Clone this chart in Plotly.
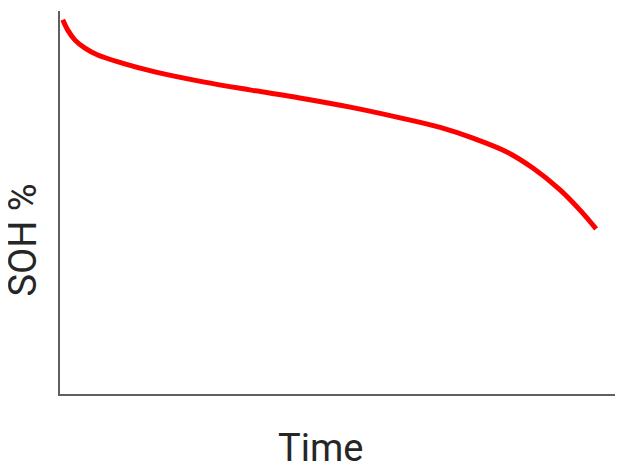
import plotly.graph_objects as go

# Data (time and SOH on 0-100 scales)
time = [0.5, 1.4, 2.7, 4.5, 6.8, 11.2, 17.1, 25.8, 34.2, 43.2, 52.3, 61.3, 68.5, 74.4, 80.5, 85.2, 90.1, 93.7, 96.6]
soh = [97.7, 95.0, 92.4, 90.3, 88.5, 86.4, 84.1, 81.5, 79.4, 77.3, 74.9, 72.1, 69.6, 66.8, 63.2, 59.0, 53.3, 48.0, 43.1]

x_title = "Time"
y_title = "SOH %"

fig = go.Figure()
fig.add_trace(go.Scatter(
    x=time, y=soh, mode="lines",
    line=dict(color="#ff0000", width=5, shape="spline", smoothing=1.0),
    showlegend=False, hoverinfo="skip",
))

axis_common = dict(
    showgrid=False, zeroline=False, showticklabels=False, ticks="",
    showline=True, linecolor="#5f5f5f", linewidth=2, automargin=False,
)
# The page body adds an 8px offset, so the figure is sized 8px smaller
fig.update_layout(
    width=608, height=457,
    margin=dict(l=52, r=1, t=3, b=71),
    paper_bgcolor="white", plot_bgcolor="white",
    font=dict(family="Roboto, Arial, sans-serif", color="#262626", size=38),
    xaxis=dict(range=[0, 100], **axis_common),
    yaxis=dict(range=[0, 100], **axis_common),
    annotations=[
        dict(text=x_title, xref="paper", yref="paper", x=0.4685, y=-0.1400,
             xanchor="center", yanchor="middle", showarrow=False),
        dict(text=y_title, xref="paper", yref="paper", x=-0.0675, y=0.402,
             xanchor="center", yanchor="middle", showarrow=False, textangle=-90),
    ],
)
fig.write_html("out.html")
